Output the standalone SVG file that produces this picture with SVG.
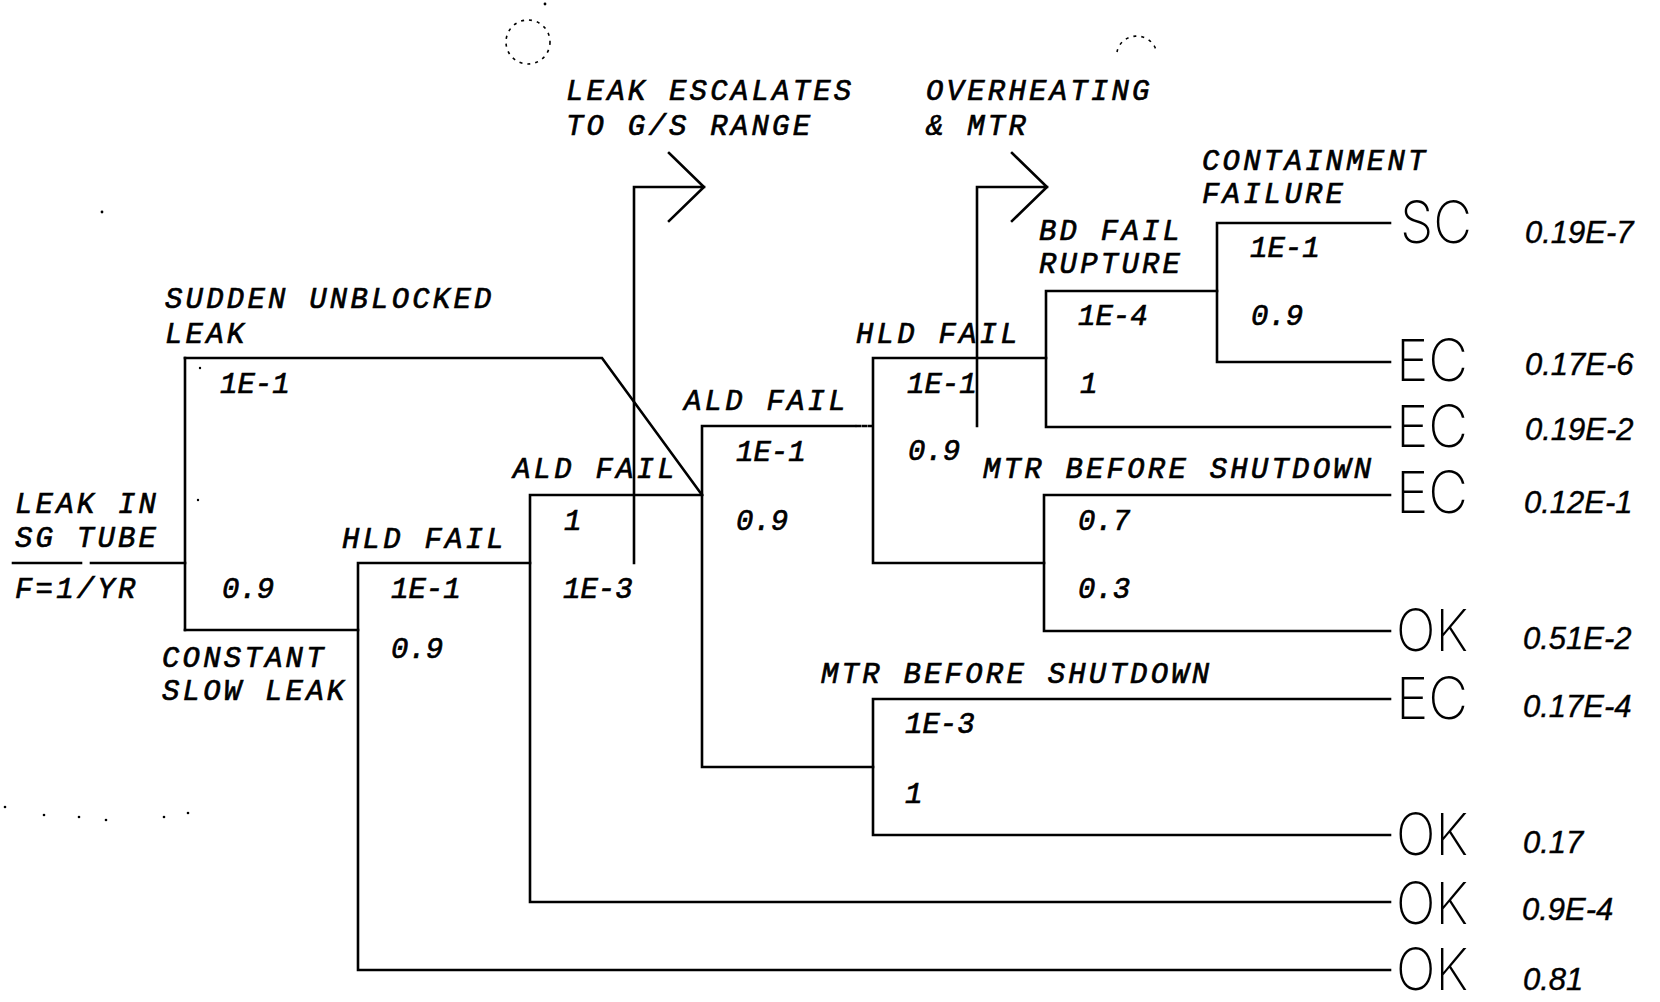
<svg xmlns="http://www.w3.org/2000/svg" width="1660" height="1002" viewBox="0 0 1660 1002">
<style>
.lbl{font-family:"Liberation Mono","DejaVu Sans Mono",monospace;font-style:italic;font-size:29px;letter-spacing:3.2px;fill:#000;stroke:#000;stroke-width:0.7px}
.prb{font-family:"Liberation Mono","DejaVu Sans Mono",monospace;font-style:italic;font-size:29px;letter-spacing:0px;fill:#000;stroke:#000;stroke-width:0.7px}
.end{font-family:Inter,"Liberation Sans","DejaVu Sans",sans-serif;font-weight:200;font-size:58px;fill:#000}
.val{font-family:"Liberation Sans","DejaVu Sans",sans-serif;font-style:italic;font-size:31px;fill:#000;stroke:#000;stroke-width:0.4px}
.ln{stroke:#000;stroke-width:2.6;fill:none;stroke-linecap:square;stroke-linejoin:miter}
.dot{fill:#000}
.punch{stroke:#000;stroke-width:1.6;fill:none;stroke-dasharray:3 5}
</style>
<rect width="1660" height="1002" fill="#fff"/>

<g id="marks">
<circle class="punch" cx="528" cy="42" r="22"/>
<path class="punch" d="M1117,52 A20,19 0 0 1 1156,50"/>
<circle class="dot" cx="545" cy="4" r="1.4"/>
<circle class="dot" cx="102" cy="212" r="1.4"/>
<circle class="dot" cx="200" cy="368" r="1.2"/>
<circle class="dot" cx="198" cy="500" r="1.2"/>
<circle class="dot" cx="5" cy="807" r="1.3"/>
<circle class="dot" cx="44" cy="815" r="1.3"/>
<circle class="dot" cx="79" cy="817" r="1.3"/>
<circle class="dot" cx="106" cy="820" r="1.3"/>
<circle class="dot" cx="164" cy="817" r="1.3"/>
<circle class="dot" cx="188" cy="813" r="1.3"/>
</g>

<g id="connectors">
<path class="ln" d="M13,563 H81 M91,563 H185"/>
<path class="ln" d="M185,358 V630"/>
<path class="ln" d="M185,358 H602 L702,495"/>
<path class="ln" d="M185,630 H358"/>
<path class="ln" d="M358,563 V970 M358,563 H530 M358,970 H1390"/>
<path class="ln" d="M530,495 V902 M530,495 H702 M530,902 H1390"/>
<path class="ln" d="M634,563 V187 H704 M669,153 L704,187 L669,221"/>
<path class="ln" d="M702,426 V767 M702,426 H855 M702,767 H873"/>
<path class="ln" d="M857,426 H873" stroke-dasharray="3 3"/>
<path class="ln" d="M873,358 V563 M873,358 H1046 M873,563 H1044"/>
<path class="ln" d="M977,426 V187 H1047 M1012,153 L1047,187 L1012,221"/>
<path class="ln" d="M1046,291 V427 M1046,291 H1217 M1046,427 H1390"/>
<path class="ln" d="M1217,223 V362 M1217,223 H1390 M1217,362 H1390"/>
<path class="ln" d="M1044,495 V631 M1044,495 H1390 M1044,631 H1390"/>
<path class="ln" d="M873,699 V835 M873,699 H1390 M873,835 H1390"/>
</g>

<g id="initiator">
<text class="lbl" x="15" y="513">LEAK IN</text>
<text class="lbl" x="15" y="547">SG TUBE</text>
<text class="lbl" x="15" y="598">F=1/YR</text>
</g>

<g id="leak-type">
<text class="lbl" x="165" y="308">SUDDEN UNBLOCKED</text>
<text class="lbl" x="165" y="343">LEAK</text>
<text class="prb" x="220" y="393">1E-1</text>
<text class="prb" x="222" y="598">0.9</text>
<text class="lbl" x="162" y="667">CONSTANT</text>
<text class="lbl" x="162" y="700">SLOW LEAK</text>
</g>

<g id="hld-fail-1">
<text class="lbl" x="342" y="548">HLD FAIL</text>
<text class="prb" x="391" y="598">1E-1</text>
<text class="prb" x="391" y="658">0.9</text>
</g>

<g id="ald-fail-1">
<text class="lbl" x="513" y="478">ALD FAIL</text>
<text class="prb" x="564" y="530">1</text>
<text class="prb" x="563" y="598">1E-3</text>
</g>

<g id="leak-escalates">
<text class="lbl" x="566" y="100">LEAK ESCALATES</text>
<text class="lbl" x="566" y="135">TO G/S RANGE</text>
</g>

<g id="ald-fail-2">
<text class="lbl" x="684" y="410">ALD FAIL</text>
<text class="prb" x="736" y="461">1E-1</text>
<text class="prb" x="736" y="530">0.9</text>
</g>

<g id="hld-fail-2">
<text class="lbl" x="856" y="343">HLD FAIL</text>
<text class="prb" x="907" y="393">1E-1</text>
<text class="prb" x="908" y="460">0.9</text>
</g>

<g id="overheating">
<text class="lbl" x="926" y="100">OVERHEATING</text>
<text class="lbl" x="926" y="135">&amp; MTR</text>
</g>

<g id="bd-fail">
<text class="lbl" x="1039" y="240">BD FAIL</text>
<text class="lbl" x="1039" y="273">RUPTURE</text>
<text class="prb" x="1078" y="325">1E-4</text>
<text class="prb" x="1080" y="393">1</text>
</g>

<g id="containment">
<text class="lbl" x="1202" y="170">CONTAINMENT</text>
<text class="lbl" x="1202" y="203">FAILURE</text>
<text class="prb" x="1250" y="257">1E-1</text>
<text class="prb" x="1251" y="325">0.9</text>
</g>

<g id="mtr-1">
<text class="lbl" x="983" y="478">MTR BEFORE SHUTDOWN</text>
<text class="prb" x="1078" y="530">0.7</text>
<text class="prb" x="1078" y="598">0.3</text>
</g>

<g id="mtr-2">
<text class="lbl" x="821" y="683">MTR BEFORE SHUTDOWN</text>
<text class="prb" x="905" y="733">1E-3</text>
<text class="prb" x="905" y="803">1</text>
</g>

<g id="outcomes">
<text class="end" x="1400" y="243" textLength="72" lengthAdjust="spacingAndGlyphs">SC</text>
<text class="val" x="1525" y="243">0.19E-7</text>
<text class="end" x="1396" y="381" textLength="72" lengthAdjust="spacingAndGlyphs">EC</text>
<text class="val" x="1525" y="375">0.17E-6</text>
<text class="end" x="1396" y="447" textLength="72" lengthAdjust="spacingAndGlyphs">EC</text>
<text class="val" x="1525" y="440">0.19E-2</text>
<text class="end" x="1396" y="513" textLength="72" lengthAdjust="spacingAndGlyphs">EC</text>
<text class="val" x="1524" y="513">0.12E-1</text>
<text class="end" x="1396" y="651" textLength="72" lengthAdjust="spacingAndGlyphs">OK</text>
<text class="val" x="1523" y="649">0.51E-2</text>
<text class="end" x="1396" y="719" textLength="72" lengthAdjust="spacingAndGlyphs">EC</text>
<text class="val" x="1523" y="717">0.17E-4</text>
<text class="end" x="1396" y="855" textLength="72" lengthAdjust="spacingAndGlyphs">OK</text>
<text class="val" x="1523" y="853">0.17</text>
<text class="end" x="1396" y="924" textLength="72" lengthAdjust="spacingAndGlyphs">OK</text>
<text class="val" x="1522" y="920">0.9E-4</text>
<text class="end" x="1396" y="990" textLength="72" lengthAdjust="spacingAndGlyphs">OK</text>
<text class="val" x="1523" y="990">0.81</text>
</g>
</svg>
